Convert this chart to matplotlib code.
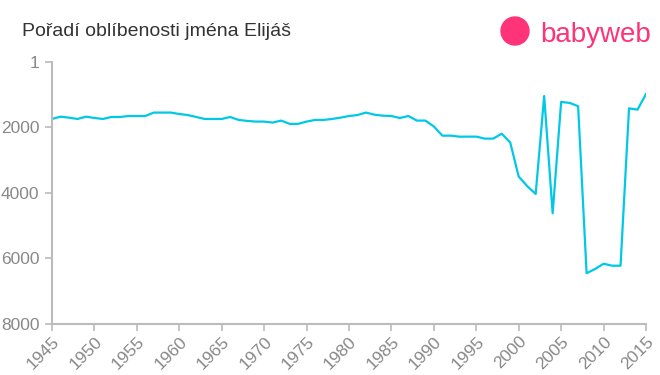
import matplotlib.pyplot as plt
from matplotlib.patches import Circle

# Data
years = list(range(1945, 2016))
ranks = [1740, 1670, 1700, 1740, 1670, 1710, 1740, 1680, 1680, 1650,
         1650, 1650, 1545, 1545, 1545, 1590, 1620, 1680, 1740, 1740,
         1740, 1680, 1770, 1800, 1820, 1820, 1850, 1790, 1890, 1890,
         1820, 1770, 1770, 1740, 1700, 1650, 1620, 1545, 1610, 1640,
         1650, 1710, 1650, 1790, 1790, 1970, 2250, 2250, 2280, 2280,
         2280, 2340, 2340, 2190, 2460, 3500, 3790, 4030, 1040, 4620,
         1220, 1250, 1350, 6450, 6320, 6160, 6220, 6220, 1415, 1455,
         980]
x_ticks = list(range(1945, 2016, 5))
y_ticks = [1, 2000, 4000, 6000, 8000]

plt.rcParams['font.family'] = ['Liberation Sans', 'DejaVu Sans']

grey = '#bbbbbb'
label_grey = '#888888'

fig = plt.figure(figsize=(6.6, 3.75), dpi=100)
ax = fig.add_axes([52 / 660, 1 - 324 / 375, 594 / 660, 262 / 375])

ax.plot(years, ranks, color='#00c8e6', linewidth=1.6)

ax.set_xlim(1945, 2015)
ax.set_ylim(8000, 1)
ax.set_xticks(x_ticks)
ax.set_yticks(y_ticks)
ax.set_xticklabels([str(y) for y in x_ticks], rotation=45, ha='right',
                   rotation_mode='anchor')

for s in ['top', 'right']:
    ax.spines[s].set_visible(False)
for s in ['left', 'bottom']:
    ax.spines[s].set_color(grey)
    ax.spines[s].set_linewidth(1.5)
ax.tick_params(axis='both', colors=grey, labelcolor=label_grey,
               labelsize=12.5, length=5, width=1.2)
ax.tick_params(axis='x', pad=2)
ax.tick_params(axis='y', pad=4)

fig.text(22 / 660, 1 - 32 / 375, 'Pořadí oblíbenosti jména Elijáš',
         fontsize=14, color='#333333', va='center', ha='left')

# logo
pink = '#ff3377'
fig.patches.append(Circle((5.15, 3.75 - 0.31), 0.14,
                          transform=fig.dpi_scale_trans, color=pink,
                          figure=fig))
fig.text(540 / 660, 1 - 35 / 375, 'babyweb', fontsize=20, color=pink,
         va='center', ha='left')

fig.savefig('out.png', dpi=100)
